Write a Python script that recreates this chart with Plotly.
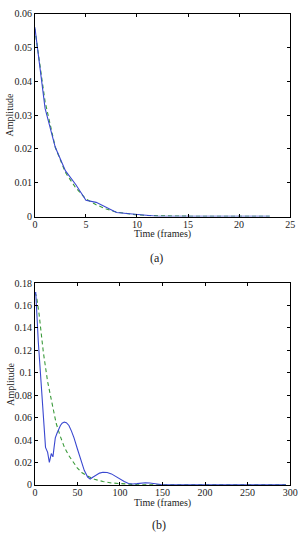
import plotly.graph_objects as go

# Panel (a)
a_t = list(range(0, 24))
a_blue = [0.056, 0.032, 0.0205, 0.0135, 0.0095, 0.0048, 0.0042, 0.0028, 0.0012, 0.0009,
          0.0006, 0.0002, 0.0001, 0.0001, 0.0001, 0.0001, 0.0001, 0.0001, 0.0001, 0.0001,
          0.0001, 0.0001, 0.0001, 0.0001]
a_green = [0.0555, 0.034, 0.0205, 0.013, 0.0085, 0.0052, 0.0035, 0.0022, 0.0013, 0.0008,
           0.0005, 0.0003, 0.0002, 0.0001, 0.0001, 0.0001, 0.0001, 0.0001, 0.0001, 0.0001,
           0.0001, 0.0001, 0.0001, 0.0001]

# Panel (b)
b_t_blue = [0, 1, 4, 8, 12.5, 15, 17, 19.3, 21.2, 22.5, 24, 26, 28, 30, 32, 34.5, 37, 40, 43,
            46, 50, 54, 58, 62, 65, 68, 72, 76, 80, 85, 90, 95, 100, 105, 110, 115, 120, 125,
            130, 135, 140, 148, 160, 200, 250, 295]
b_blue = [0.17, 0.172, 0.128, 0.079, 0.0335, 0.029, 0.020, 0.028, 0.025, 0.033, 0.042, 0.046,
          0.050, 0.053, 0.055, 0.056, 0.0555, 0.053, 0.048, 0.042, 0.032, 0.022, 0.013, 0.007,
          0.0052, 0.0068, 0.0088, 0.0105, 0.0112, 0.011, 0.0098, 0.0075, 0.005, 0.003, 0.0012,
          0.0008, 0.0011, 0.0016, 0.0019, 0.0017, 0.0012, 0.0004, 0.0001, 0.0, 0.0, 0.0]
b_t_green = [0, 2, 5, 10, 15, 20, 25, 30, 35, 40, 45, 50, 55, 60, 70, 80, 90, 100, 110, 120,
             140, 160, 200, 250, 295]
b_green = [0.172, 0.168, 0.152, 0.118, 0.092, 0.072, 0.055, 0.043, 0.033, 0.026, 0.020, 0.015,
           0.011, 0.0087, 0.005, 0.003, 0.0017, 0.001, 0.0005, 0.0002, 0.0001, 0.0, 0.0, 0.0, 0.0]

BLUE = "#3a48d0"
GREEN = "#3a9a3a"
FONT = "Liberation Serif"
DASH = "4px,3px"

fig = go.Figure()
fig.add_trace(go.Scatter(x=a_t, y=a_green, mode="lines", line=dict(color=GREEN, width=1.1, dash=DASH),
                         xaxis="x", yaxis="y", showlegend=False))
fig.add_trace(go.Scatter(x=a_t, y=a_blue, mode="lines", line=dict(color=BLUE, width=1.1),
                         xaxis="x", yaxis="y", showlegend=False))
fig.add_trace(go.Scatter(x=b_t_green, y=b_green, mode="lines", line=dict(color=GREEN, width=1.1, dash=DASH),
                         xaxis="x2", yaxis="y2", showlegend=False))
fig.add_trace(go.Scatter(x=b_t_blue, y=b_blue, mode="lines", line=dict(color=BLUE, width=1.1),
                         xaxis="x2", yaxis="y2", showlegend=False))

W, H = 303, 533
xd = [34 / W, 298 / W]
ya = [(H - 216) / H, (H - 9) / H]
yb = [(H - 490) / H, (H - 284) / H]

ax_common = dict(showgrid=False, zeroline=False, showline=True, linecolor="black", linewidth=1,
                 mirror="ticks", ticks="inside", ticklen=3, tickcolor="black",
                 tickfont=dict(family=FONT, size=10, color="#222"))

fig.update_layout(
    width=W, height=H, margin=dict(l=0, r=0, t=0, b=0),
    paper_bgcolor="white", plot_bgcolor="white",
    xaxis=dict(domain=xd, range=[0, 25], tickvals=[0, 5, 10, 15, 20, 25], anchor="y",
               ticklabelstandoff=-2, **ax_common),
    yaxis=dict(domain=ya, range=[0, 0.06], tickvals=[0, 0.01, 0.02, 0.03, 0.04, 0.05, 0.06],
               ticktext=["0", "0.01", "0.02", "0.03", "0.04", "0.05", "0.06"], anchor="x", **ax_common),
    xaxis2=dict(domain=xd, range=[0, 300], tickvals=[0, 50, 100, 150, 200, 250, 300], anchor="y2",
                ticklabelstandoff=-2, **ax_common),
    yaxis2=dict(domain=yb, range=[0, 0.18], tickvals=[0, 0.02, 0.04, 0.06, 0.08, 0.1, 0.12, 0.14, 0.16, 0.18],
                ticktext=["0", "0.02", "0.04", "0.06", "0.08", "0.1", "0.12", "0.14", "0.16", "0.18"],
                anchor="x2", **ax_common),
)

def px_x(p):
    return p / W

def px_y(p):
    return (H - p) / H

ann = []
for yc, lab in [(234, "Time (frames)"), (509, "Time (frames)")]:
    ann.append(dict(text=lab, x=px_x(166), y=px_y(yc), xref="paper", yref="paper", showarrow=False,
                    font=dict(family=FONT, size=10, color="#222"), xanchor="center", yanchor="middle"))
for yc in [112, 387]:
    ann.append(dict(text="Amplitude", x=px_x(8), y=px_y(yc), xref="paper", yref="paper", showarrow=False,
                    textangle=-90, font=dict(family=FONT, size=10, color="#222"),
                    xanchor="center", yanchor="middle"))
ann.append(dict(text="(a)", x=px_x(160), y=px_y(258), xref="paper", yref="paper", showarrow=False,
                font=dict(family=FONT, size=12, color="#222"), xanchor="center", yanchor="middle"))
ann.append(dict(text="(b)", x=px_x(162), y=px_y(531), xref="paper", yref="paper", showarrow=False,
                font=dict(family=FONT, size=12, color="#222"), xanchor="center", yanchor="middle"))
fig.update_layout(annotations=ann)

fig.write_html("out.html")
